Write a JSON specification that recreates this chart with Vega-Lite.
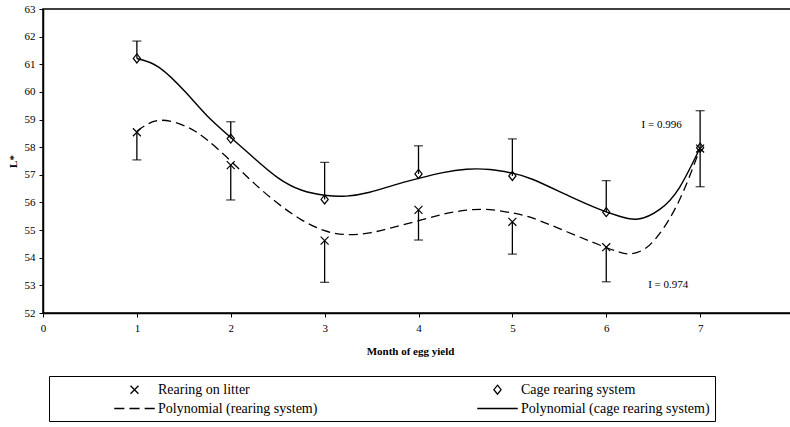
{
  "$schema": "https://vega.github.io/schema/vega-lite/v6.json",
  "autosize": {"type": "none"},
  "padding": {"left": 43, "top": 9, "right": 0, "bottom": 114},
  "width": 751,
  "height": 304,
  "config": {
    "font": "Liberation Serif",
    "view": {"stroke": "black", "strokeWidth": 1.5},
    "axis": {
      "domainColor": "black", "domainWidth": 1.5, "tickColor": "black", "tickWidth": 1, "tickSize": 4,
      "labelColor": "black", "labelFontSize": 11, "labelFont": "Liberation Serif", "labelFlush": false, "labelOverlap": false,
      "titleFont": "Liberation Serif", "titleFontSize": 11, "titleFontWeight": "bold", "titleColor": "black", "grid": false
    }
  },
  "datasets": {
    "obs": [
      {"month": 1, "series": "Rearing on litter", "value": 58.54, "end": 57.54},
      {"month": 2, "series": "Rearing on litter", "value": 57.35, "end": 56.09},
      {"month": 3, "series": "Rearing on litter", "value": 54.62, "end": 53.11},
      {"month": 4, "series": "Rearing on litter", "value": 55.73, "end": 54.64},
      {"month": 5, "series": "Rearing on litter", "value": 55.3, "end": 54.13},
      {"month": 6, "series": "Rearing on litter", "value": 54.38, "end": 53.13},
      {"month": 7, "series": "Rearing on litter", "value": 57.95, "end": 56.57},
      {"month": 1, "series": "Cage rearing system", "value": 61.21, "end": 61.84},
      {"month": 2, "series": "Cage rearing system", "value": 58.31, "end": 58.92},
      {"month": 3, "series": "Cage rearing system", "value": 56.11, "end": 57.45},
      {"month": 4, "series": "Cage rearing system", "value": 57.03, "end": 58.05},
      {"month": 5, "series": "Cage rearing system", "value": 56.96, "end": 58.3},
      {"month": 6, "series": "Cage rearing system", "value": 55.65, "end": 56.79},
      {"month": 7, "series": "Cage rearing system", "value": 57.98, "end": 59.32}
    ],
    "fit": [
      {"curve": "cage", "month": 1.0, "value": 61.21},
      {"curve": "cage", "month": 1.24, "value": 60.88},
      {"curve": "cage", "month": 1.53, "value": 59.95},
      {"curve": "cage", "month": 1.75, "value": 59.13},
      {"curve": "cage", "month": 2.0, "value": 58.35},
      {"curve": "cage", "month": 2.25, "value": 57.6},
      {"curve": "cage", "month": 2.5, "value": 56.9},
      {"curve": "cage", "month": 2.75, "value": 56.45},
      {"curve": "cage", "month": 3.0, "value": 56.26},
      {"curve": "cage", "month": 3.23, "value": 56.23},
      {"curve": "cage", "month": 3.48, "value": 56.37},
      {"curve": "cage", "month": 3.73, "value": 56.62},
      {"curve": "cage", "month": 4.0, "value": 56.87},
      {"curve": "cage", "month": 4.26, "value": 57.08},
      {"curve": "cage", "month": 4.51, "value": 57.2},
      {"curve": "cage", "month": 4.76, "value": 57.19},
      {"curve": "cage", "month": 5.0, "value": 57.06},
      {"curve": "cage", "month": 5.22, "value": 56.83},
      {"curve": "cage", "month": 5.6, "value": 56.24},
      {"curve": "cage", "month": 5.93, "value": 55.75},
      {"curve": "cage", "month": 6.14, "value": 55.5},
      {"curve": "cage", "month": 6.34, "value": 55.4},
      {"curve": "cage", "month": 6.57, "value": 55.75},
      {"curve": "cage", "month": 6.78, "value": 56.54},
      {"curve": "cage", "month": 7.0, "value": 57.98},
      {"curve": "litter", "month": 1.0, "value": 58.58},
      {"curve": "litter", "month": 1.24, "value": 58.97},
      {"curve": "litter", "month": 1.53, "value": 58.74},
      {"curve": "litter", "month": 1.75, "value": 58.26},
      {"curve": "litter", "month": 2.0, "value": 57.5},
      {"curve": "litter", "month": 2.25, "value": 56.69},
      {"curve": "litter", "month": 2.5, "value": 55.97},
      {"curve": "litter", "month": 2.75, "value": 55.38},
      {"curve": "litter", "month": 3.0, "value": 54.98},
      {"curve": "litter", "month": 3.23, "value": 54.84},
      {"curve": "litter", "month": 3.48, "value": 54.9},
      {"curve": "litter", "month": 3.73, "value": 55.1},
      {"curve": "litter", "month": 4.0, "value": 55.34},
      {"curve": "litter", "month": 4.26, "value": 55.57},
      {"curve": "litter", "month": 4.51, "value": 55.72},
      {"curve": "litter", "month": 4.76, "value": 55.74},
      {"curve": "litter", "month": 5.0, "value": 55.62},
      {"curve": "litter", "month": 5.22, "value": 55.43},
      {"curve": "litter", "month": 5.58, "value": 54.94},
      {"curve": "litter", "month": 5.93, "value": 54.46},
      {"curve": "litter", "month": 6.14, "value": 54.2},
      {"curve": "litter", "month": 6.25, "value": 54.14},
      {"curve": "litter", "month": 6.4, "value": 54.3},
      {"curve": "litter", "month": 6.57, "value": 54.88},
      {"curve": "litter", "month": 6.78, "value": 56.09},
      {"curve": "litter", "month": 7.0, "value": 57.95}
    ],
    "notes": [
      {"month": 6.59, "value": 58.8, "text": "I = 0.996"},
      {"month": 6.66, "value": 53.01, "text": "I = 0.974"}
    ]
  },
  "layer": [
    {
      "data": {"name": "obs"},
      "mark": {"type": "rule", "color": "black", "strokeWidth": 1.3},
      "encoding": {
        "x": {"field": "month", "type": "quantitative", "scale": {"domain": [0, 8], "nice": false},
              "axis": {"values": [0, 1, 2, 3, 4, 5, 6, 7], "format": "d", "title": "Month of egg yield", "labelPadding": 5, "titlePadding": 12, "titleX": 367, "labelOverlap": false}},
        "y": {"field": "value", "type": "quantitative", "scale": {"domain": [52, 63], "nice": false, "zero": false},
              "axis": {"values": [52, 53, 54, 55, 56, 57, 58, 59, 60, 61, 62, 63], "format": "d", "tickCount": 12, "labelOverlap": false, "labelSeparation": 0, "title": "L*", "labelPadding": 4, "titlePadding": 6}},
        "y2": {"field": "end"}
      }
    },
    {
      "data": {"name": "obs"},
      "mark": {"type": "tick", "orient": "horizontal", "color": "black", "size": 9, "thickness": 1.3},
      "encoding": {
        "x": {"field": "month", "type": "quantitative"},
        "y": {"field": "end", "type": "quantitative"}
      }
    },
    {
      "data": {"name": "fit"},
      "transform": [{"filter": "datum.curve === 'litter'"}],
      "mark": {"type": "line", "color": "black", "strokeWidth": 1.3, "strokeDash": [9, 5], "interpolate": "natural"},
      "encoding": {
        "x": {"field": "month", "type": "quantitative"},
        "y": {"field": "value", "type": "quantitative"}
      }
    },
    {
      "data": {"name": "fit"},
      "transform": [{"filter": "datum.curve === 'cage'"}],
      "mark": {"type": "line", "color": "black", "strokeWidth": 1.4, "interpolate": "natural"},
      "encoding": {
        "x": {"field": "month", "type": "quantitative"},
        "y": {"field": "value", "type": "quantitative"}
      }
    },
    {
      "data": {"name": "obs"},
      "mark": {"type": "point", "filled": false, "color": "black", "strokeWidth": 1.2, "size": 225, "opacity": 1},
      "encoding": {
        "x": {"field": "month", "type": "quantitative"},
        "y": {"field": "value", "type": "quantitative"},
        "shape": {
          "field": "series", "type": "nominal",
          "scale": {
            "domain": ["Rearing on litter", "Cage rearing system", "Polynomial (rearing system)", "Polynomial (cage rearing system)"],
            "range": [
              "M-2.7,0M2.7,0M-0.53,-0.53L0.53,0.53M-0.53,0.53L0.53,-0.53",
              "M-2.7,0M2.7,0M0,-0.6L0.48,0L0,0.6L-0.48,0Z",
              "M-2.7,0L-1.35,0M-0.675,0L0.675,0M1.35,0L2.7,0",
              "M-2.7,0L2.7,0"
            ]
          },
          "legend": {
            "orient": "none", "legendX": 6, "legendY": 367, "columns": 2, "direction": "horizontal",
            "title": " ", "titleOrient": "left", "titlePadding": 72, "titleFontSize": 13,
            "padding": 5, "strokeColor": "black",
            "symbolSize": 225, "symbolStrokeColor": "black", "symbolFillColor": "transparent", "symbolStrokeWidth": 1.3,
            "labelFontSize": 14, "labelFont": "Liberation Serif", "labelColor": "black", "labelOffset": 15, "labelLimit": 0,
            "rowPadding": 3, "columnPadding": 156,
            "labelExpr": "indexof(['Cage rearing system','Polynomial (cage rearing system)'], datum.value) >= 0 ? datum.label + '               ' : datum.label",
            "encode": {
              "symbols": {"update": {"strokeWidth": {"signal": "datum.value === 'Polynomial (rearing system)' ? 2.4 : 1.3"}}},
              "legend": {"update": {"strokeWidth": {"value": 1.5}}}
            }
          }
        }
      }
    },
    {
      "data": {"name": "notes"},
      "mark": {"type": "text", "color": "black", "fontSize": 11, "font": "Liberation Serif"},
      "encoding": {
        "x": {"field": "month", "type": "quantitative"},
        "y": {"field": "value", "type": "quantitative"},
        "text": {"field": "text"}
      }
    }
  ]
}
